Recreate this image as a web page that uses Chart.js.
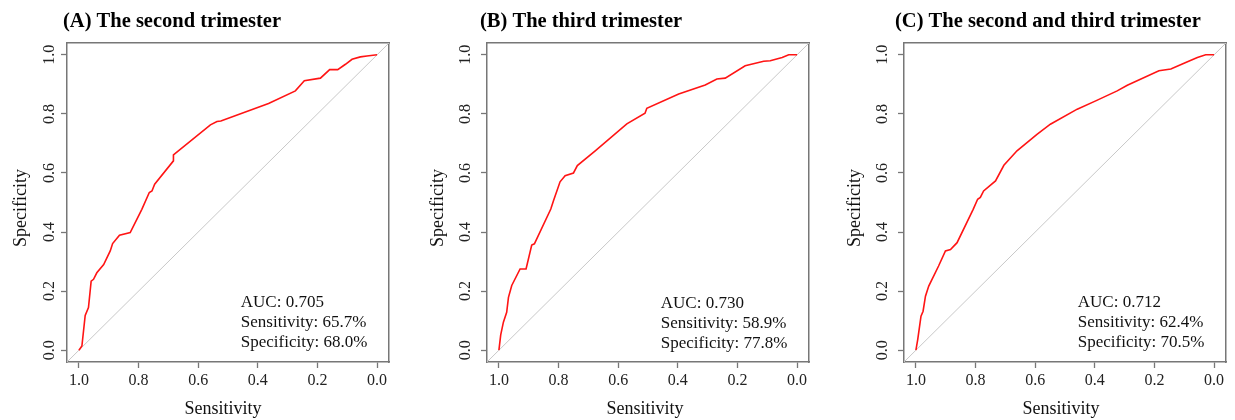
<!DOCTYPE html>
<html><head><meta charset="utf-8">
<script src="https://cdn.jsdelivr.net/npm/chart.js@4.4.0/dist/chart.umd.min.js"></script>
<style>
html,body{margin:0;padding:0;background:#fff;}
#wrap{position:relative;width:1235px;height:420px;background:#fff;}
canvas{position:absolute;top:0;}
</style></head><body>
<div id="wrap">
<canvas id="cA" width="412" height="420" style="left:0px"></canvas>
<canvas id="cB" width="412" height="420" style="left:412px"></canvas>
<canvas id="cC" width="411" height="420" style="left:824px"></canvas>
</div>
<script>
// ---- data ----
const tickValues = [0, 0.2, 0.4, 0.6, 0.8, 1.0];
const panelTitles = ['(A) The second trimester', '(B) The third trimester', '(C) The second and third trimester'];
const xAxisTitle = 'Sensitivity';
const yAxisTitle = 'Specificity';

const auc = ['0.705', '0.730', '0.712'];
const sensitivity = ['65.7%', '58.9%', '62.4%'];
const specificity = ['68.0%', '77.8%', '70.5%'];

const xA = [1.000, 0.990, 0.979, 0.968, 0.959, 0.951, 0.940, 0.917, 0.895, 0.887, 0.864, 0.828, 0.789, 0.764, 0.755, 0.746, 0.683, 0.683, 0.559, 0.537, 0.524, 0.364, 0.274, 0.244, 0.190, 0.159, 0.132, 0.106, 0.084, 0.056, 0.034, 0.000];
const yA = [0.000, 0.014, 0.118, 0.144, 0.234, 0.240, 0.262, 0.290, 0.336, 0.361, 0.389, 0.398, 0.477, 0.534, 0.539, 0.562, 0.641, 0.661, 0.763, 0.774, 0.776, 0.835, 0.878, 0.912, 0.921, 0.950, 0.950, 0.968, 0.985, 0.993, 0.996, 1.000];

const xB = [1.000, 0.994, 0.985, 0.974, 0.968, 0.957, 0.929, 0.909, 0.890, 0.881, 0.826, 0.817, 0.795, 0.778, 0.750, 0.737, 0.677, 0.571, 0.510, 0.504, 0.397, 0.308, 0.269, 0.241, 0.174, 0.112, 0.090, 0.050, 0.028, 0.000];
const yB = [0.000, 0.052, 0.095, 0.128, 0.179, 0.219, 0.275, 0.275, 0.356, 0.360, 0.478, 0.506, 0.570, 0.591, 0.600, 0.625, 0.675, 0.766, 0.802, 0.819, 0.867, 0.898, 0.918, 0.921, 0.963, 0.978, 0.980, 0.991, 1.000, 1.000];

const xC = [1.000, 0.994, 0.983, 0.976, 0.968, 0.957, 0.946, 0.924, 0.901, 0.884, 0.862, 0.808, 0.793, 0.784, 0.773, 0.733, 0.705, 0.661, 0.594, 0.549, 0.459, 0.397, 0.325, 0.291, 0.185, 0.145, 0.095, 0.056, 0.028, 0.000];
const yC = [0.000, 0.036, 0.115, 0.132, 0.183, 0.217, 0.240, 0.285, 0.336, 0.341, 0.364, 0.477, 0.511, 0.517, 0.539, 0.573, 0.626, 0.675, 0.731, 0.765, 0.816, 0.844, 0.878, 0.897, 0.946, 0.952, 0.974, 0.991, 1.000, 1.000];

const diagX = [1.04, -0.04];
const diagY = [-0.04, 1.04];

// ---- drawing ----
const FONT = '"Liberation Serif", "Times New Roman", serif';
const GRAY = '#777777';

const panelText = {
  id: 'panelText',
  afterDraw(chart, args, o) {
    const ctx = chart.ctx, ca = chart.chartArea;
    const xs = chart.scales.x, ys = chart.scales.y;
    ctx.save();
    ctx.fillStyle = '#000';
    ctx.textAlign = 'left';
    ctx.textBaseline = 'alphabetic';
    ctx.font = 'bold 20.5px ' + FONT;
    ctx.fillText(o.title, ca.left + o.titleDx, o.titleY);
    // axis titles
    ctx.fillStyle = '#111';
    ctx.font = '18px ' + FONT;
    ctx.textAlign = 'center';
    ctx.fillText(o.xTitle, (ca.left + ca.right) / 2 + o.xTitleDx, o.xTitleY);
    ctx.save();
    ctx.translate(ca.left - o.yTitleGap, (ca.top + ca.bottom) / 2 + o.yTitleDy);
    ctx.rotate(-Math.PI / 2);
    ctx.fillText(o.yTitle, 0, 0);
    ctx.restore();
    // annotation
    ctx.textAlign = 'left';
    ctx.font = '17px ' + FONT;
    const tx = xs.getPixelForValue(o.textX);
    const ty = ys.getPixelForValue(o.textY);
    o.lines.forEach((t, i) => ctx.fillText(t, tx, ty + i * o.lineGap));
    ctx.restore();
  }
};

function makeChart(id, i, xs, ys, geo) {
  const pts = xs.map((x, k) => ({x: x, y: ys[k]}));
  const diag = diagX.map((x, k) => ({x: x, y: diagY[k]}));
  const tickFont = {family: FONT, size: 16};
  new Chart(document.getElementById(id), {
    type: 'scatter',
    data: {
      datasets: [
        {data: pts, showLine: true, borderColor: '#ff1414', borderWidth: 1.6, pointRadius: 0, tension: 0, fill: false},
        {data: diag, showLine: true, borderColor: '#c8c8c8', borderWidth: 1, pointRadius: 0, fill: false}
      ]
    },
    options: {
      responsive: false,
      animation: false,
      devicePixelRatio: 1,
      layout: {padding: {top: 43, right: geo.padRight, bottom: 0, left: 0}},
      plugins: {
        legend: {display: false},
        tooltip: {enabled: false},
        panelText: {
          title: panelTitles[i], titleDx: geo.titleDx, titleY: 27,
          xTitle: xAxisTitle, yTitle: yAxisTitle,
          xTitleDx: geo.xTitleDx, xTitleY: 413.5,
          yTitleGap: geo.yTitleGap, yTitleDy: 5.5,
          lines: ['AUC: ' + auc[i], 'Sensitivity: ' + sensitivity[i], 'Specificity: ' + specificity[i]],
          textX: 0.457, textY: geo.textY, lineGap: 20.3
        }
      },
      scales: {
        x: {
          type: 'linear', position: 'bottom', reverse: true, min: -0.04, max: 1.04,
          afterBuildTicks: s => { s.ticks = tickValues.map(v => ({value: v})); },
          afterFit: s => { s.height = 58; },
          ticks: {callback: v => Number(v).toFixed(1), font: tickFont, color: '#222', padding: 3, maxRotation: 0, autoSkip: false},
          grid: {display: true, drawOnChartArea: false, drawTicks: true, tickLength: 6, tickColor: GRAY, tickWidth: 1.3, color: GRAY},
          border: {display: true, color: GRAY, width: 1.5},
          title: {display: false}
        },
        y: {
          type: 'linear', position: 'left', min: -0.04, max: 1.04,
          afterBuildTicks: s => { s.ticks = tickValues.map(v => ({value: v})); },
          afterFit: s => { s.width = geo.yWidth; },
          ticks: {callback: v => Number(v).toFixed(1), font: tickFont, color: '#222', padding: geo.yTickPad, minRotation: 90, maxRotation: 90, crossAlign: 'center', autoSkip: false},
          grid: {display: true, drawOnChartArea: false, drawTicks: true, tickLength: 6, tickColor: GRAY, tickWidth: 1.3, color: GRAY},
          border: {display: true, color: GRAY, width: 1.5},
          title: {display: false}
        },
        x2: {
          type: 'linear', axis: 'x', position: 'top', display: true,
          afterFit: s => { s.height = 0; },
          ticks: {display: false}, grid: {display: false, drawTicks: false},
          border: {display: true, color: GRAY, width: 1.5}
        },
        y2: {
          type: 'linear', axis: 'y', position: 'right', display: true,
          afterFit: s => { s.width = 0; },
          ticks: {display: false}, grid: {display: false, drawTicks: false},
          border: {display: true, color: GRAY, width: 1.5}
        }
      }
    },
    plugins: [panelText]
  });
}

makeChart('cA', 0, xA, yA, {yWidth: 67, padRight: 23, titleDx: -4, textY: 0.147, yTickPad: 1, yTitleGap: 41.5, xTitleDx: -5});
makeChart('cB', 1, xB, yB, {yWidth: 75, padRight: 15, titleDx: -7, textY: 0.144, yTickPad: 5, yTitleGap: 44.5, xTitleDx: -3});
makeChart('cC', 2, xC, yC, {yWidth: 80, padRight: 9, titleDx: -9, textY: 0.147, yTickPad: 5, yTitleGap: 44.5, xTitleDx: -4});
</script>
</body></html>
